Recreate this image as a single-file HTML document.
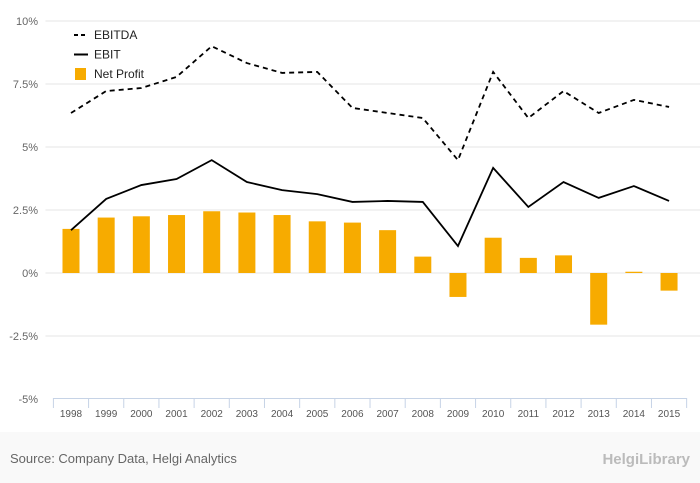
<!DOCTYPE html>
<html><head><meta charset="utf-8"><style>
body{margin:0;background:#fff;font-family:"Liberation Sans",sans-serif;}
#wrap{position:relative;width:700px;height:483px;overflow:hidden;background:#fff}
#footer{position:absolute;left:0;top:432px;width:700px;height:51px;background:#f9f9f9}
</style></head><body>
<div id="wrap">
<div id="footer"></div>
<svg id="chart" width="700" height="483" style="position:absolute;left:0;top:0"></svg>
</div>
<script>
const categories=["1998","1999","2000","2001","2002","2003","2004","2005","2006","2007","2008","2009","2010","2011","2012","2013","2014","2015"];
const ebitda=[6.35,7.22,7.34,7.78,9.0,8.33,7.94,7.98,6.55,6.35,6.15,4.48,7.98,6.15,7.22,6.35,6.87,6.59];
const ebit=[1.7,2.94,3.49,3.73,4.48,3.61,3.29,3.13,2.82,2.86,2.82,1.07,4.17,2.62,3.61,2.98,3.45,2.86];
const netProfit=[1.75,2.2,2.25,2.3,2.45,2.4,2.3,2.05,2.0,1.7,0.65,-0.95,1.4,0.6,0.7,-2.05,0.05,-0.7];
const yTicks=[10,7.5,5,2.5,0,-2.5,-5];
const yTickLabels=["10%","7.5%","5%","2.5%","0%","-2.5%","-5%"];
const NS="http://www.w3.org/2000/svg";
const svg=document.getElementById('chart');
const left=53.4,band=35.18,yTop=21,yBot=399,vMax=10,vMin=-5;
function y(v){return yTop+(vMax-v)/(vMax-vMin)*(yBot-yTop);}
function x(i){return left+band*(i+0.5);}
function mk(tag,attrs,parent){const e=document.createElementNS(NS,tag);for(const k in attrs)e.setAttribute(k,attrs[k]);(parent||svg).appendChild(e);return e;}
yTicks.forEach((t,i)=>{
  if(t!==-5){const g=mk('line',{x1:left-8,x2:700,y1:y(t),y2:y(t),stroke:'#e6e6e6','stroke-width':1});
  
  }
  const tx=mk('text',{x:38,y:y(t)+4,'text-anchor':'end','font-size':11,fill:'#666'});
  tx.textContent=yTickLabels[i];
  
  
});
const ax=mk('line',{x1:left,x2:left+band*categories.length,y1:398.5,y2:398.5,stroke:'#c6d3e6','stroke-width':1});


for(let i=0;i<=categories.length;i++){
  const tk=mk('line',{x1:left+band*i,x2:left+band*i,y1:398,y2:408,stroke:'#c6d3e6'});
  
  
}
categories.forEach((c,i)=>{
  const tx=mk('text',{x:x(i),y:417,'text-anchor':'middle','font-size':10,fill:'#555'});
  tx.textContent=c;
  
  
});
netProfit.forEach((v,i)=>{
  const r=mk('rect',{x:x(i)-8.5,width:17,y:Math.min(y(v),y(0)),height:Math.abs(y(v)-y(0)),fill:'#f7ab00'});
  
  
});
function line(data,dash,name){
  const p=mk('polyline',{points:data.map((v,i)=>x(i)+','+y(v)).join(' '),fill:'none',stroke:'#000','stroke-width':1.8,'stroke-dasharray':dash});
  
  
}
line(ebitda,'5,4','line-ebitda');
line(ebit,'none','line-ebit');
const legend=[["EBITDA","dash"],["EBIT","solid"],["Net Profit","bar"]];
legend.forEach((l,i)=>{
  const cy=35+i*19.5;
  const g=mk('g',{});
  
  
  if(l[1]==='bar')mk('rect',{x:75,y:cy-6,width:11,height:12,fill:'#f7ab00'},g);
  else mk('line',{x1:74,x2:88,y1:cy,y2:cy,stroke:'#000','stroke-width':2,'stroke-dasharray':l[1]==='dash'?'4,3':'none'},g);
  const t=mk('text',{x:94,y:cy+4,'font-size':12,fill:'#222'},g);
  t.textContent=l[0];
});
const src=mk('text',{x:10,y:463,'font-size':13,fill:'#666'});
src.textContent='Source: Company Data, Helgi Analytics';


const brand=mk('text',{x:690,y:464,'text-anchor':'end','font-size':15,fill:'#bbb','font-weight':'bold'});
brand.textContent='HelgiLibrary';


</script>
</body></html>
